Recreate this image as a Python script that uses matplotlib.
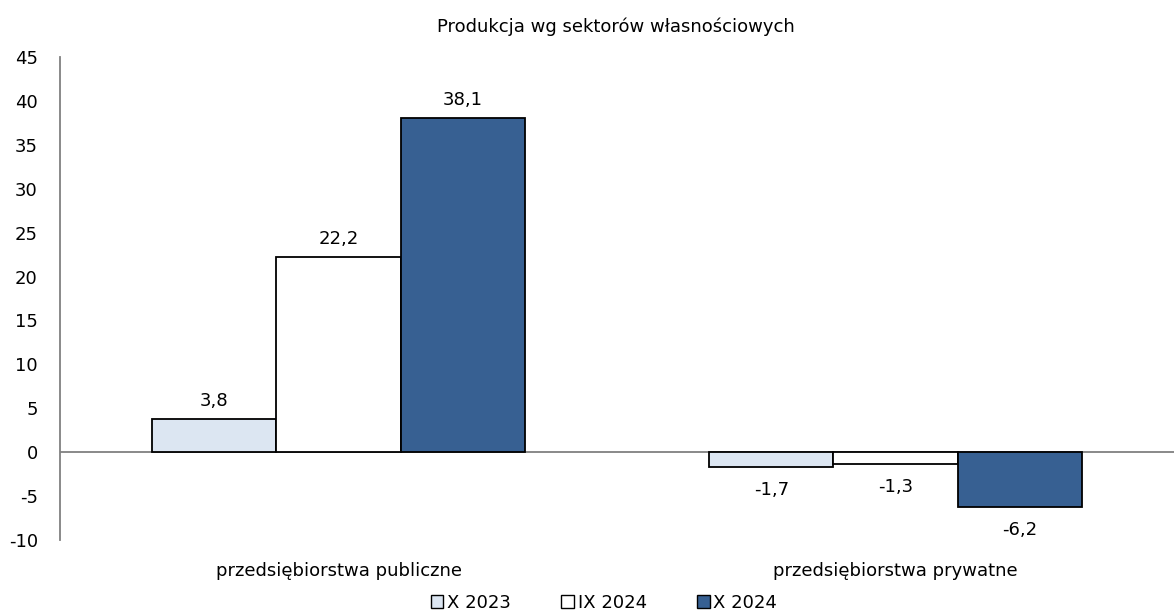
import matplotlib.pyplot as plt
import numpy as np
from matplotlib.patches import Patch

categories = ["przedsiębiorstwa publiczne", "przedsiębiorstwa prywatne"]
series_names = ["X 2023", "IX 2024", "X 2024"]
x_2023 = [3.8, -1.7]
ix_2024 = [22.2, -1.3]
x_2024 = [38.1, -6.2]
colors = ["#dce6f2", "#ffffff", "#376092"]

plt.rcParams['font.family'] = ['DejaVu Sans']
plt.rcParams['axes.unicode_minus'] = False

fig = plt.figure(figsize=(11.74, 6.14), dpi=100)
ax = fig.add_axes([60 / 1174, 1 - 540 / 614, 1114 / 1174, 483 / 614])

x = np.arange(len(categories))
w = 0.223
series = [x_2023, ix_2024, x_2024]
for i, vals in enumerate(series):
    pos = x + (i - 1) * w
    ax.bar(pos, vals, width=w, color=colors[i], edgecolor='black', linewidth=1.3, zorder=3)
    for p, v in zip(pos, vals):
        lbl = f"{v:.1f}".replace('.', ',')
        if v >= 0:
            ax.text(p, v + 1.0, lbl, ha='center', va='bottom', fontsize=13)
        else:
            ax.text(p, v - 1.6, lbl, ha='center', va='top', fontsize=13)

ax.axhline(0, color='#808080', linewidth=1.3, zorder=2)
ax.set_xlim(-0.5, 1.5)
ax.set_ylim(-10, 45)
ax.set_yticks(range(-10, 46, 5))
ax.tick_params(axis='y', length=0, labelsize=13, pad=16)
ax.set_xticks([])
for s in ['top', 'right', 'bottom']:
    ax.spines[s].set_visible(False)
ax.spines['left'].set_color('#808080')
ax.spines['left'].set_linewidth(1.3)

for xi, c in zip(x, categories):
    ax.text(xi, -13.5, c, ha='center', va='center', fontsize=13)

fig.text(616 / 1174, 1 - 27 / 614, "Produkcja wg sektorów własnościowych", ha='center', va='center', fontsize=13)

handles = [Patch(facecolor=colors[i], edgecolor='black', linewidth=1) for i in range(3)]
fig.legend(handles, series_names, loc='center', bbox_to_anchor=(604 / 1174, 1 - 603 / 614),
           ncol=3, frameon=False, fontsize=13, handlelength=0.7, handleheight=0.7,
           handletextpad=0.2, columnspacing=2.8)

fig.savefig("out.png", dpi=100)
